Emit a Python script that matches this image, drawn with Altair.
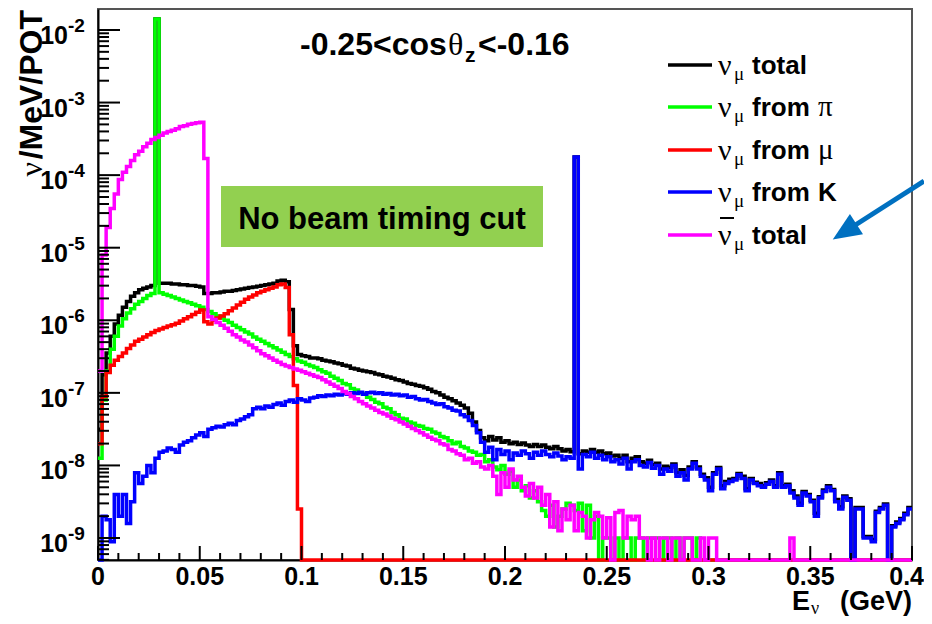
import altair as alt
import pandas as pd

# ---------------- data (log10 of nu/MeV/POT per 2 MeV bin, None = empty bin) ----------------
BIN_W = 0.002  # GeV

nu_total = [
    -7.50, -6.75, -6.45, -6.22, -6.05, -5.93, -5.82, -5.74, -5.67, -5.62,
    -5.58, -5.56, -5.54, -5.52, -1.85, -5.49, -5.49, -5.49, -5.50, -5.50,
    -5.51, -5.51, -5.52, -5.52, -5.53, -5.54, -5.63, -5.63, -5.62, -5.62,
    -5.61, -5.60, -5.60, -5.59, -5.58, -5.57, -5.56, -5.55, -5.54, -5.53,
    -5.52, -5.51, -5.50, -5.49, -5.46, -5.45, -5.47, -5.85, -6.35, -6.47,
    -6.49, -6.50, -6.52, -6.52, -6.53, -6.55, -6.56, -6.57, -6.59, -6.60,
    -6.62, -6.63, -6.66, -6.67, -6.69, -6.70, -6.71, -6.72, -6.74, -6.75,
    -6.77, -6.78, -6.80, -6.82, -6.83, -6.85, -6.87, -6.88, -6.90, -6.91,
    -6.93, -6.95, -6.98, -7.00, -7.03, -7.06, -7.08, -7.11, -7.14, -7.17,
    -7.21, -7.28, -7.40, -7.52, -7.62, -7.66, -7.60, -7.65, -7.62, -7.68,
    -7.66, -7.70, -7.68, -7.71, -7.69, -7.72, -7.74, -7.71, -7.74, -7.72,
    -7.75, -7.77, -7.74, -7.77, -7.80, -7.78, -7.81, -3.75, -7.84, -7.80,
    -7.82, -7.78, -7.82, -7.80, -7.84, -7.83, -7.87, -7.86, -7.90, -7.86,
    -7.95, -7.90, -7.88, -7.95, -7.97, -7.93, -7.99, -7.97, -8.05, -8.01,
    -8.03, -7.98, -8.10, -8.06, -8.14, -8.02, -7.95, -8.02, -8.12, -8.17,
    -8.30, -8.10, -8.03, -8.28, -8.22, -8.19, -8.18, -8.11, -8.15, -8.32,
    -8.18, -8.23, -8.25, -8.28, -8.24, -8.20, -8.28, -8.10, -8.28, -8.26,
    -8.35, -8.42, -8.52, -8.36, -8.40, -8.48, -8.66, -8.43, -8.34, -8.28,
    -8.33, -8.47, -8.57, -8.42, -8.46, None, -8.58, -8.58, -8.98, -8.98,
    -9.02, -8.63, -8.58, -8.53, None, -8.83, -8.78, -8.73, -8.66, -8.58,
]

nu_from_pi = [
    -7.90, -7.10, -6.70, -6.40, -6.22, -6.08, -5.98, -5.90, -5.84, -5.78,
    -5.74, -5.70, -5.66, -5.63, -1.85, -5.62, -5.64, -5.66, -5.68, -5.70,
    -5.72, -5.74, -5.76, -5.78, -5.80, -5.82, -5.85, -5.88, -5.91, -5.94,
    -5.97, -6.00, -6.03, -6.07, -6.10, -6.13, -6.16, -6.19, -6.23, -6.26,
    -6.29, -6.32, -6.35, -6.38, -6.41, -6.44, -6.47, -6.50, -6.53, -6.56,
    -6.58, -6.61, -6.63, -6.65, -6.68, -6.71, -6.73, -6.77, -6.80, -6.83,
    -6.87, -6.89, -6.94, -6.96, -7.00, -7.02, -7.06, -7.09, -7.13, -7.15,
    -7.20, -7.22, -7.27, -7.30, -7.35, -7.36, -7.40, -7.42, -7.45, -7.46,
    -7.49, -7.50, -7.54, -7.56, -7.60, -7.62, -7.66, -7.70, -7.68, -7.74,
    -7.76, -7.80, -7.82, -7.86, -7.85, -7.95, -7.92, -8.02, -8.06, -8.00,
    -8.12, -8.08, -8.30, -8.20, -8.35, -8.28, -8.45, -8.35, -8.50, -8.62,
    -8.70, -8.55, -8.85, -8.70, -8.60, -8.52, -8.55, -8.62, -8.52, -8.90,
    -8.55, -9.00, -8.70, None, -9.00, -9.00, None, -9.00, None, -9.00,
    -9.00, None, -9.00, -9.00, None, -9.00, -9.00, -9.00, None, -9.00,
    -9.00, None, -9.00, None, -9.00, -9.00, None, -9.00, None, None,
    None, None, None, None, None, None, None, None, None, None,
    None, None, None, None, None, None, None, None, None, None,
    None, None, None, None, None, None, None, None, None, None,
    None, None, None, None, None, None, None, None, None, None,
    None, None, None, None, None, None, None, None, None, None,
]

nu_from_mu = [
    -7.70, -7.05, -6.72, -6.62, -6.55, -6.50, -6.45, -6.39, -6.34, -6.29,
    -6.26, -6.23, -6.20, -6.17, -6.14, -6.12, -6.10, -6.08, -6.06, -6.04,
    -6.01, -5.98, -5.95, -5.92, -5.89, -5.86, -6.02, -6.05, -6.00, -5.97,
    -5.94, -5.91, -5.87, -5.83, -5.79, -5.75, -5.71, -5.68, -5.65, -5.62,
    -5.60, -5.58, -5.56, -5.54, -5.51, -5.50, -5.55, -6.20, -6.90, -8.60,
] + [None] * 150

nu_from_K = [
    None, -8.70, -8.75, -9.05, -8.40, -8.70, -8.40, -8.80, -8.50, -8.10,
    -8.25, -8.15, -8.00, -8.10, -7.90, -7.82, -7.80, -7.76, -7.78, -7.82,
    -7.72, -7.68, -7.66, -7.62, -7.58, -7.55, -7.60, -7.50, -7.48, -7.46,
    -7.47, -7.44, -7.42, -7.44, -7.38, -7.36, -7.33, -7.30, -7.22, -7.20,
    -7.22, -7.18, -7.20, -7.16, -7.14, -7.17, -7.12, -7.10, -7.13, -7.08,
    -7.10, -7.12, -7.07, -7.06, -7.04, -7.05, -7.03, -7.04, -7.02, -7.03,
    -7.01, -7.02, -7.00, -7.01, -6.99, -7.02, -7.00, -6.99, -7.01, -7.00,
    -7.02, -7.01, -7.03, -7.02, -7.04, -7.03, -7.06, -7.05, -7.08, -7.10,
    -7.09, -7.12, -7.14, -7.16, -7.15, -7.19, -7.21, -7.24, -7.25, -7.30,
    -7.33, -7.38, -7.45, -7.55, -7.68, -7.82, -7.75, -7.92, -7.78, -7.85,
    -7.80, -7.92, -7.83, -7.86, -7.80, -7.84, -7.90, -7.82, -7.86, -7.80,
    -7.85, -7.88, -7.83, -7.87, -7.92, -7.88, -7.90, -3.75, -8.05, -7.85,
    -7.88, -7.82, -7.90, -7.86, -7.92, -7.88, -7.95, -7.92, -7.98, -7.90,
    -8.05, -7.95, -7.92, -8.00, -8.02, -7.96, -8.04, -8.00, -8.12, -8.05,
    -8.08, -8.00, -8.15, -8.10, -8.20, -8.05, -7.97, -8.05, -8.15, -8.20,
    -8.35, -8.12, -8.05, -8.32, -8.25, -8.22, -8.20, -8.13, -8.18, -8.35,
    -8.20, -8.25, -8.28, -8.30, -8.26, -8.22, -8.30, -8.12, -8.30, -8.28,
    -8.38, -8.45, -8.55, -8.38, -8.42, -8.50, -8.70, -8.45, -8.36, -8.30,
    -8.35, -8.50, -8.60, -8.44, -8.48, None, -8.60, -8.60, -9.00, -9.00,
    -9.05, -8.65, -8.60, -8.55, None, -8.85, -8.80, -8.75, -8.68, -8.60,
]

nubar_total = [
    -6.70, -5.10, -4.72, -4.46, -4.26, -4.06, -3.96, -3.88, -3.80, -3.72,
    -3.67, -3.61, -3.56, -3.51, -3.48, -3.45, -3.42, -3.40, -3.38, -3.36,
    -3.33, -3.32, -3.30, -3.29, -3.28, -3.27, -3.77, -5.95, -5.99, -6.03,
    -6.07, -6.11, -6.15, -6.20, -6.23, -6.27, -6.30, -6.34, -6.38, -6.42,
    -6.46, -6.49, -6.52, -6.55, -6.58, -6.61, -6.63, -6.65, -6.67, -6.69,
    -6.71, -6.73, -6.75, -6.77, -6.79, -6.82, -6.85, -6.88, -6.91, -6.94,
    -6.98, -7.01, -7.05, -7.08, -7.12, -7.15, -7.18, -7.21, -7.24, -7.27,
    -7.29, -7.32, -7.35, -7.37, -7.40, -7.43, -7.46, -7.49, -7.52, -7.55,
    -7.58, -7.61, -7.64, -7.66, -7.70, -7.72, -7.78, -7.80, -7.84, -7.86,
    -7.92, -7.90, -7.97, -7.95, -8.02, -8.05, -8.00, -8.15, -8.40, -8.10,
    -8.30, -8.05, -8.20, -8.15, -8.30, -8.42, -8.25, -8.45, -8.30, -8.55,
    -8.40, -8.85, -8.50, -8.90, -8.60, -8.75, -8.55, -8.90, -8.65, -8.70,
    -9.00, -8.75, -8.65, -8.70, -9.00, -8.72, None, -8.65, -8.62, -9.00,
    -8.70, -8.75, -8.70, -9.00, -9.00, None, -9.00, None, -9.00, -9.00,
    None, -9.00, -9.00, None, -9.00, -9.00, None, None, -9.00, None,
    -9.00, -9.00, None, None, None, None, None, None, None, None,
    None, None, None, None, None, None, None, None, None, None,
    -9.00, None, None, None, None, None, None, None, None, None,
    None, None, None, None, None, None, None, None, None, None,
    None, None, None, None, None, None, None, None, None, None,
]

SERIES = [
    (nu_total, "#000000"),
    (nu_from_pi, "#00ff00"),
    (nu_from_mu, "#ff0000"),
    (nu_from_K, "#0000ff"),
    (nubar_total, "#ff00ff"),
]
for s, _ in SERIES:
    assert len(s) == 200, len(s)

X_MAJOR = [0.0, 0.05, 0.1, 0.15, 0.2, 0.25, 0.3, 0.35, 0.4]
X_LABELS = ["0", "0.05", "0.1", "0.15", "0.2", "0.25", "0.3", "0.35", "0.4"]
X_MINOR = [round(i * 0.01, 2) for i in range(41) if i % 5]
Y_EXPS = [-9, -8, -7, -6, -5, -4, -3, -2]
MINOR_MULT = [2, 3, 4, 5, 6, 7, 8, 9]

YMIN = 10 ** -9.303
YMAX = 10 ** -1.711

SANS = "Liberation Sans"
SERIF = "Liberation Serif"
ONE = pd.DataFrame({"k": [0]})

xs = alt.Scale(domain=[0, 0.4], nice=False, zero=False)
ys = alt.Scale(type="log", domain=[YMIN, YMAX], nice=False)
x_axis = alt.Axis(title=None, labels=False, ticks=False, grid=False,
                  domainColor="black", domainWidth=2)
y_axis = alt.Axis(title=None, labels=False, ticks=False, grid=False,
                  domainColor="black", domainWidth=2)


def hist_frame(logvals):
    edges = [round(i * BIN_W, 4) for i in range(len(logvals) + 1)]
    vals = [YMIN if v is None else 10.0 ** v for v in logvals]
    vals = vals + [vals[-1]]
    return pd.DataFrame({"E": edges, "v": vals})


def line_layer(vals, color):
    return alt.Chart(hist_frame(vals)).mark_line(
        interpolate="step-after", color=color, strokeWidth=3.5, strokeJoin="miter"
    ).encode(x=alt.X("E:Q", scale=xs, axis=x_axis), y=alt.Y("v:Q", scale=ys, axis=y_axis))


def txt(s, x, y, size, font=SANS, weight="bold", align="left", angle=0):
    return alt.Chart(ONE).mark_text(
        text=s, font=font, fontSize=size, fontWeight=weight, align=align,
        baseline="alphabetic", angle=angle, color="black"
    ).encode(x=alt.value(x), y=alt.value(y))


layers = [line_layer(v, c) for v, c in SERIES]

# ticks (inward, ROOT style)
ymaj = pd.DataFrame({"ty": [10.0 ** e for e in Y_EXPS]})
ymin_vals = [m * 10.0 ** e for e in range(-10, -1) for m in MINOR_MULT]
ymin_vals = [v for v in ymin_vals if YMIN <= v <= YMAX]
ymin_df = pd.DataFrame({"ty": ymin_vals})
layers.append(alt.Chart(ymaj).mark_rule(color="black", strokeWidth=2).encode(
    y=alt.Y("ty:Q", scale=ys, axis=y_axis), x=alt.value(0), x2=alt.value(22)))
layers.append(alt.Chart(ymin_df).mark_rule(color="black", strokeWidth=2).encode(
    y=alt.Y("ty:Q", scale=ys, axis=y_axis), x=alt.value(0), x2=alt.value(11)))
layers.append(alt.Chart(pd.DataFrame({"tx": X_MAJOR})).mark_rule(color="black", strokeWidth=2).encode(
    x=alt.X("tx:Q", scale=xs, axis=x_axis), y=alt.value(551), y2=alt.value(537)))
layers.append(alt.Chart(pd.DataFrame({"tx": X_MINOR})).mark_rule(color="black", strokeWidth=2).encode(
    x=alt.X("tx:Q", scale=xs, axis=x_axis), y=alt.value(551), y2=alt.value(544)))

# x tick labels (last one kept inside the page)
xlab = pd.DataFrame({"tx": X_MAJOR[:-1], "lab": X_LABELS[:-1]})
layers.append(alt.Chart(xlab).mark_text(align="center", baseline="alphabetic", fontSize=25,
                                        font=SANS, fontWeight="bold", color="black").encode(
    x=alt.X("tx:Q", scale=xs, axis=x_axis), y=alt.value(576), text="lab:N"))
xlast = pd.DataFrame({"tx": X_MAJOR[-1:], "lab": X_LABELS[-1:]})
layers.append(alt.Chart(xlast).mark_text(align="right", baseline="alphabetic", fontSize=25, dx=12,
                                         font=SANS, fontWeight="bold", color="black").encode(
    x=alt.X("tx:Q", scale=xs, axis=x_axis), y=alt.value(576), text="lab:N"))

# y tick labels 10^k
ylab = pd.DataFrame({"ty": [10.0 ** e for e in Y_EXPS], "base": ["10"] * len(Y_EXPS),
                     "ex": [str(e) for e in Y_EXPS]})
layers.append(alt.Chart(ylab).mark_text(align="right", baseline="alphabetic", dy=14, fontSize=25,
                                        font=SANS, fontWeight="bold", color="black").encode(
    y=alt.Y("ty:Q", scale=ys, axis=y_axis), x=alt.value(-30), text="base:N"))
layers.append(alt.Chart(ylab).mark_text(align="left", baseline="alphabetic", dy=2, fontSize=19,
                                        font=SANS, fontWeight="bold", color="black").encode(
    y=alt.Y("ty:Q", scale=ys, axis=y_axis), x=alt.value(-30), text="ex:N"))

# axis titles
layers.append(txt("/MeV/POT", -56, 1, 32, align="right", angle=270))
layers.append(txt("ν", -56, 153, 32, font=SERIF, weight="normal", align="right", angle=270))
layers.append(txt("E", 694, 601, 27))
layers.append(txt("ν", 713, 605, 18, font=SERIF, weight="normal"))
layers.append(txt("(GeV)", 814, 601, 27, align="right"))

# cos theta label
layers.append(txt("-0.25<cos", 202, 46, 32))
layers.append(txt("θ", 350, 46, 32, font=SERIF, weight="normal"))
layers.append(txt("z", 367, 53, 21))
layers.append(txt("<-0.16", 380, 46, 32))

# green box
layers.append(alt.Chart(ONE).mark_rect(color="#92D050").encode(
    x=alt.value(123), x2=alt.value(445), y=alt.value(177), y2=alt.value(238)))
layers.append(txt("No beam timing cut", 284, 220, 31, align="center"))

# legend
ROWS = [56, 98, 141, 183, 226]
WORDS = ["total", "from", "from", "from", "total"]
TAILS = ["", "π", "μ", "K", ""]
for (vals, color), row, word, tail in zip(SERIES, ROWS, WORDS, TAILS):
    layers.append(alt.Chart(ONE).mark_rule(color=color, strokeWidth=3.5).encode(
        x=alt.value(570), x2=alt.value(614), y=alt.value(row)))
    layers.append(txt("ν", 620, row + 10, 30, font=SERIF, weight="normal"))
    layers.append(txt("μ", 636, row + 15, 19, font=SERIF, weight="normal"))
    layers.append(txt(word, 654, row + 9, 26))
    if tail == "K":
        layers.append(txt(tail, 720, row + 9, 26))
    elif tail:
        layers.append(txt(tail, 720, row + 9, 29, font=SERIF, weight="normal"))
layers.append(alt.Chart(ONE).mark_rule(color="black", strokeWidth=2).encode(
    x=alt.value(622), x2=alt.value(636), y=alt.value(209)))

# arrow
ARROW = "#0070C0"
layers.append(alt.Chart(ONE).mark_rule(color=ARROW, strokeWidth=5).encode(
    x=alt.value(826), y=alt.value(172), x2=alt.value(755), y2=alt.value(217.5)))
layers.append(alt.Chart(ONE).mark_point(shape="M0,-1L0.85,1L-0.85,1Z", filled=True, size=800,
                                        angle=237, color=ARROW, opacity=1, strokeWidth=0).encode(
    x=alt.value(746.6), y=alt.value(222.9)))

chart = alt.layer(*layers).properties(
    width=814, height=551,
    padding={"left": 90, "top": 1, "right": 12, "bottom": 56},
    autosize=alt.AutoSizeParams(type="none"),
).configure_view(stroke="#555555", strokeWidth=2)

chart.save("out.html", embed_options={"renderer": "svg", "actions": False})
